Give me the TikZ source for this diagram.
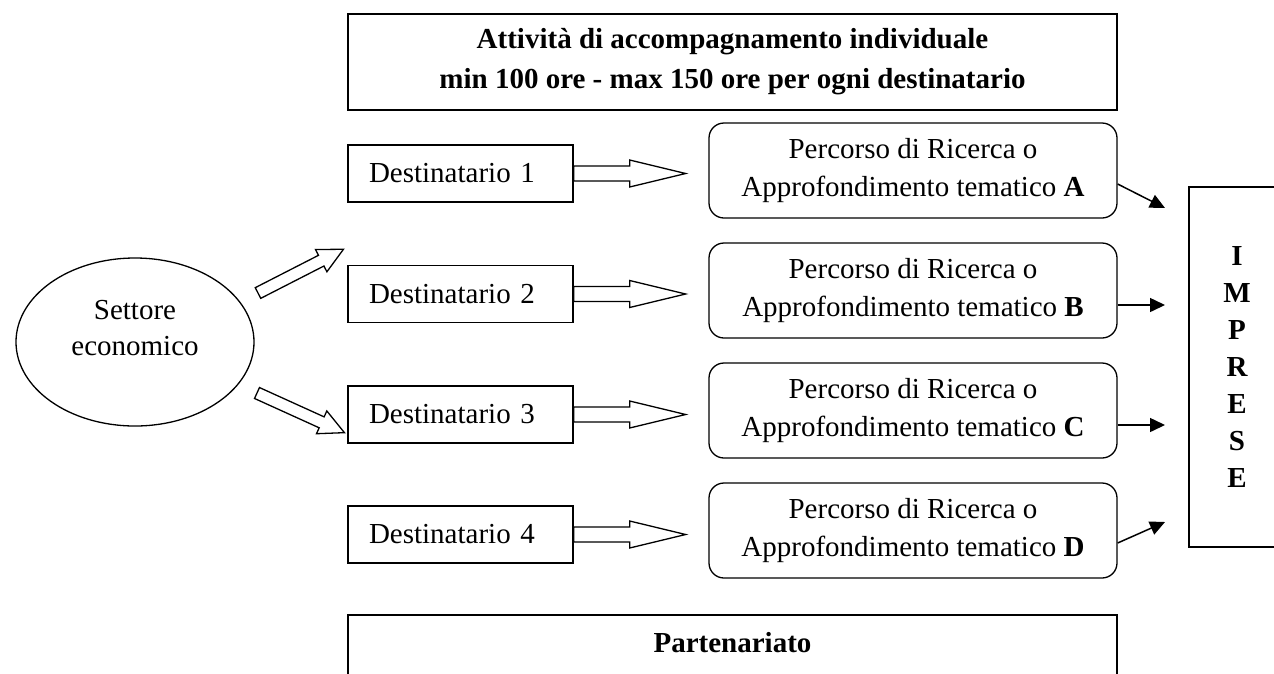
\documentclass[tikz,border=0pt]{standalone}
\usepackage{fontspec}
\setmainfont{Liberation Serif}
\usetikzlibrary{arrows.meta,calc,shapes.geometric}
\begin{document}
\begin{tikzpicture}[x=1pt,y=-1pt,
  every node/.style={font=\fontsize{29}{38}\selectfont},
  box/.style={draw,line width=1.3pt,inner sep=0pt},
  dest/.style={box,minimum height=57pt,text width=183pt,inner xsep=21pt,align=left},
  pathbox/.style={box,rounded corners=15pt,minimum width=408pt,minimum height=95pt,align=center},
  hollow/.style={draw,line width=1.3pt,fill=white,line join=miter},
  thinarrow/.style={line width=1.5pt,-{Triangle[length=15pt,width=14pt]}}]
\path[use as bounding box,clip] (0,0) rectangle (1274,673);

% top box
\node[box,minimum width=769pt,minimum height=96pt,align=center,
  font=\fontsize{29}{40}\selectfont\bfseries] (top) at (732.5,62)
  {Attività di accompagnamento individuale\\min 100 ore - max 150 ore per ogni destinatario};

% ellipse
\node[box,ellipse,minimum width=238pt,minimum height=168pt] (sett) at (135,342) {};
\node[align=center,font=\fontsize{29}{36}\selectfont] (setttxt) at ($(sett.center)+(0,-14)$) {Settore\\economico};

% destinatari
\node[dest] (d1) at (460.5,173.5) {Destinatario 1};
\node[dest] (d2) at (460.5,294) {Destinatario 2};
\node[dest] (d3) at (460.5,414.5) {Destinatario 3};
\node[dest] (d4) at (460.5,534.5) {Destinatario 4};

% percorsi
\node[pathbox] (rA) at (913,170.5) {Percorso di Ricerca o\\Approfondimento tematico \textbf{A}};
\node[pathbox] (rB) at (913,290.5) {Percorso di Ricerca o\\Approfondimento tematico \textbf{B}};
\node[pathbox] (rC) at (913,410.5) {Percorso di Ricerca o\\Approfondimento tematico \textbf{C}};
\node[pathbox] (rD) at (913,530.5) {Percorso di Ricerca o\\Approfondimento tematico \textbf{D}};

% hollow arrows destinatario -> percorso
\foreach \d in {d1,d2,d3,d4}{
  \draw[hollow] (\d.east) ++(0,-7.5) -- ++(56,0) -- ++(0,-6) -- ++(56,13.5)
     -- ++(-56,13.5) -- ++(0,-6) -- ++(-56,0) -- cycle;
}

% hollow arrows from the ellipse
\begin{scope}[shift={(258,293)},rotate=27.1]
  \draw[hollow] (0,-6) -- (71,-6) -- (71,-12.5) -- (96,0) -- (71,12.5) -- (71,6) -- (0,6) -- cycle;
\end{scope}
\begin{scope}[shift={(257,393)},rotate=-24.4]
  \draw[hollow] (0,-6) -- (71,-6) -- (71,-12.5) -- (96,0) -- (71,12.5) -- (71,6) -- (0,6) -- cycle;
\end{scope}

% imprese
\node[box,minimum width=96pt,minimum height=360pt,align=center,
  font=\fontsize{29}{37}\selectfont\bfseries] (imp) at (1237,367) {I\\M\\P\\R\\E\\S\\E};

\coordinate (tA) at (1165,208);
\coordinate (tB) at (1165,305);
\coordinate (tC) at (1165,425);
\coordinate (tD) at (1165,522);
\draw[thinarrow] ($(rA.east)+(0,13.5)$) -- (tA);
\draw[thinarrow] ($(rB.east)+(0,14.5)$) -- (tB);
\draw[thinarrow] ($(rC.east)+(0,14.5)$) -- (tC);
\draw[thinarrow] ($(rD.east)+(0,12.5)$) -- (tD);

% partenariato
\node[box,minimum width=769pt,minimum height=100pt] (part) at (732.5,665) {};
\node[font=\fontsize{29}{38}\selectfont\bfseries] (parttxt) at (732.5,643) {Partenariato};
\end{tikzpicture}
\end{document}
